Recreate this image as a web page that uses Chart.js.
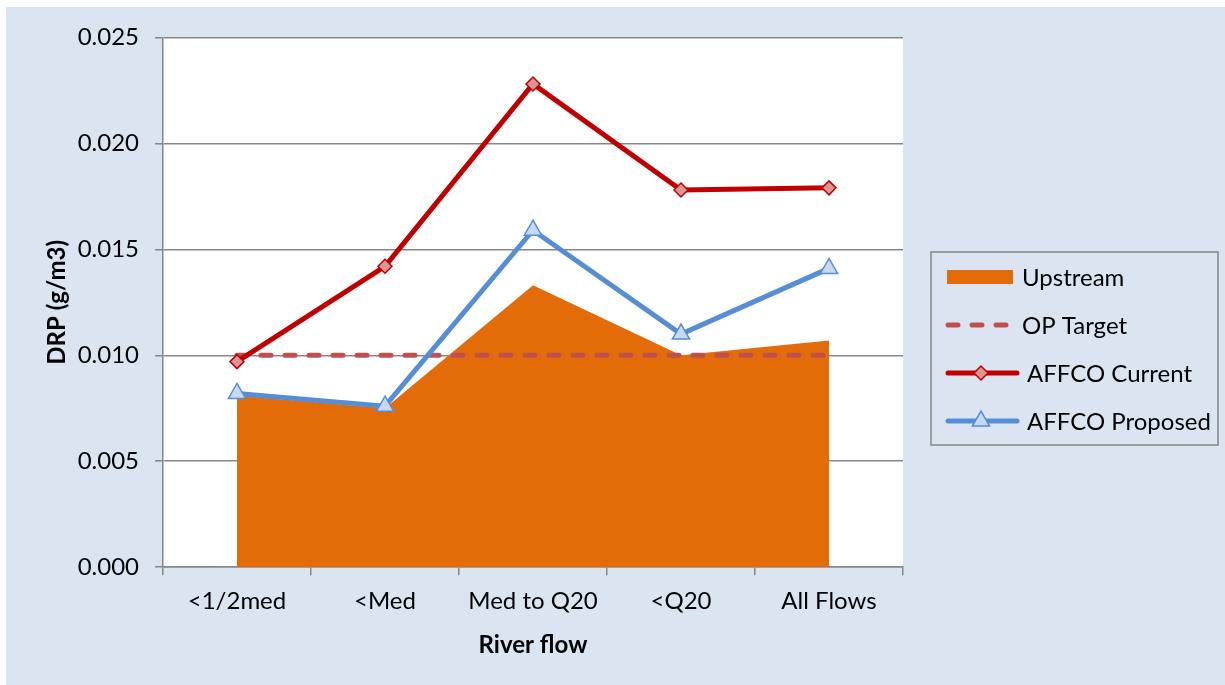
<!DOCTYPE html>
<html>
<head>
<meta charset="utf-8">
<script src="https://cdn.jsdelivr.net/npm/chart.js@4.4.1/dist/chart.umd.min.js"></script>
<style>
  html, body { margin: 0; padding: 0; background: #ffffff; }
  #wrap { position: absolute; left: 6px; top: 7px; width: 1219px; height: 678px; background: #DBE5F1; }
  canvas { display: block; }
</style>
</head>
<body>
<div id="wrap"><canvas id="c" width="1219" height="678"></canvas></div>
<script>
// ---- data ----
const categories = ['<1/2med', '<Med', 'Med to Q20', '<Q20', 'All Flows'];
const upstream = [0.0081, 0.0075, 0.0133, 0.0100, 0.0107];
const opTarget = [0.010, 0.010, 0.010, 0.010, 0.010];
const affcoCurrent = [0.0097, 0.0142, 0.0228, 0.0178, 0.0179];
const affcoProposed = [0.0082, 0.0076, 0.0159, 0.0110, 0.0141];
const seriesNames = ['Upstream', 'OP Target', 'AFFCO Current', 'AFFCO Proposed'];
const yTicks = [0, 0.005, 0.010, 0.015, 0.020, 0.025];

const FONT = 'Lato, "Open Sans", sans-serif';
const GRID = '#868686';

const plotBg = {
  id: 'plotBg',
  beforeDraw(chart) {
    const { ctx, chartArea: a } = chart;
    ctx.save();
    ctx.fillStyle = '#ffffff';
    ctx.fillRect(a.left, a.top, a.right - a.left, a.bottom - a.top);
    ctx.restore();
  }
};

const boxLegend = {
  id: 'boxLegend',
  afterDraw(chart) {
    const ctx = chart.ctx;
    const bx = 925, by = 245, bw = 287, bh = 193;
    ctx.save();
    ctx.strokeStyle = GRID;
    ctx.lineWidth = 1.5;
    ctx.strokeRect(bx, by, bw, bh);
    const rowY = [270, 318, 366, 414];
    const symL = 939, symR = 1008;
    ctx.font = '24px ' + FONT;
    ctx.textBaseline = 'middle';
    ctx.textAlign = 'left';
    chart.data.datasets.forEach((ds, i) => {
      const y = rowY[i];
      if (i === 0) {
        ctx.fillStyle = ds.backgroundColor;
        ctx.fillRect(symL + 2, y - 7, symR - symL - 3, 14);
      } else {
        ctx.save();
        ctx.strokeStyle = ds.borderColor;
        ctx.lineWidth = ds.borderWidth;
        ctx.lineCap = 'round';
        ctx.setLineDash(ds.borderDash || []);
        ctx.beginPath();
        ctx.moveTo(symL + 3, y);
        ctx.lineTo(symR + (i === 1 ? 0 : 3), y);
        ctx.stroke();
        ctx.restore();
        if (ds.pointRadius > 0) {
          const mx = (symL + symR + 3) / 2;
          ctx.save();
          ctx.fillStyle = ds.pointBackgroundColor;
          ctx.strokeStyle = ds.pointBorderColor;
          ctx.lineWidth = ds.pointBorderWidth;
          Chart.helpers.drawPoint(ctx, {
            pointStyle: ds.pointStyle,
            radius: ds.pointRadius,
            borderWidth: ds.pointBorderWidth,
            rotation: 0
          }, mx, y);
          ctx.restore();
        }
      }
      ctx.fillStyle = '#000000';
      ctx.fillText(ds.label, i < 2 ? 1016 : 1021, y + 1);
    });
    ctx.restore();
  }
};

new Chart(document.getElementById('c'), {
  type: 'line',
  data: {
    labels: categories,
    datasets: [
      {
        label: seriesNames[0], data: upstream, order: 4,
        fill: 'origin', backgroundColor: '#E36C09', borderColor: '#E36C09',
        borderWidth: 0, pointRadius: 0, tension: 0
      },
      {
        label: seriesNames[1], data: opTarget, order: 3, fill: false,
        borderColor: '#C0504D', borderWidth: 5, borderDash: [10, 14], borderCapStyle: 'round',
        pointRadius: 0
      },
      {
        label: seriesNames[2], data: affcoCurrent, order: 2, fill: false,
        borderColor: '#C00000', borderWidth: 5,
        pointStyle: 'rectRot', pointRadius: 7, pointBorderWidth: 1.5,
        pointBackgroundColor: '#D99694', pointBorderColor: '#C00000'
      },
      {
        label: seriesNames[3], data: affcoProposed, order: 1, fill: false,
        borderColor: '#558ED5', borderWidth: 5,
        pointStyle: 'triangle', pointRadius: 10, pointBorderWidth: 1.5,
        pointBackgroundColor: '#C6D9F1', pointBorderColor: '#558ED5'
      }
    ]
  },
  options: {
    responsive: false,
    animation: false,
    layout: { padding: { left: 0, right: 322, top: 28, bottom: 21 } },
    plugins: { legend: { display: false }, tooltip: { enabled: false } },
    scales: {
      x: {
        offset: true,
        grid: { offset: true, drawOnChartArea: false, color: GRID, lineWidth: 1.5, tickLength: 8 },
        border: { color: GRID, width: 1.5 },
        ticks: { color: '#000', font: { family: FONT, size: 24 }, padding: 11.6, maxRotation: 0 },
        title: { display: true, text: 'River flow', color: '#000',
                 font: { family: FONT, size: 24, weight: 'bold' }, padding: { top: 4, bottom: 4 } }
      },
      y: {
        min: 0, max: 0.025,
        afterFit(scale) { scale.width = 157; },
        afterBuildTicks(scale) { scale.ticks = yTicks.map(v => ({ value: v })); },
        grid: { color: GRID, lineWidth: 1.5, tickLength: 8 },
        border: { color: GRID, width: 1.5 },
        ticks: { color: '#000', font: { family: FONT, size: 24 }, padding: 16,
                 callback: v => Number(v).toFixed(3) },
        title: { display: true, text: 'DRP (g/m3)', color: '#000',
                 font: { family: FONT, size: 24, weight: 'bold' }, padding: { top: 36.6, bottom: 0 } }
      }
    }
  },
  plugins: [plotBg, boxLegend]
});
</script>
</body>
</html>
